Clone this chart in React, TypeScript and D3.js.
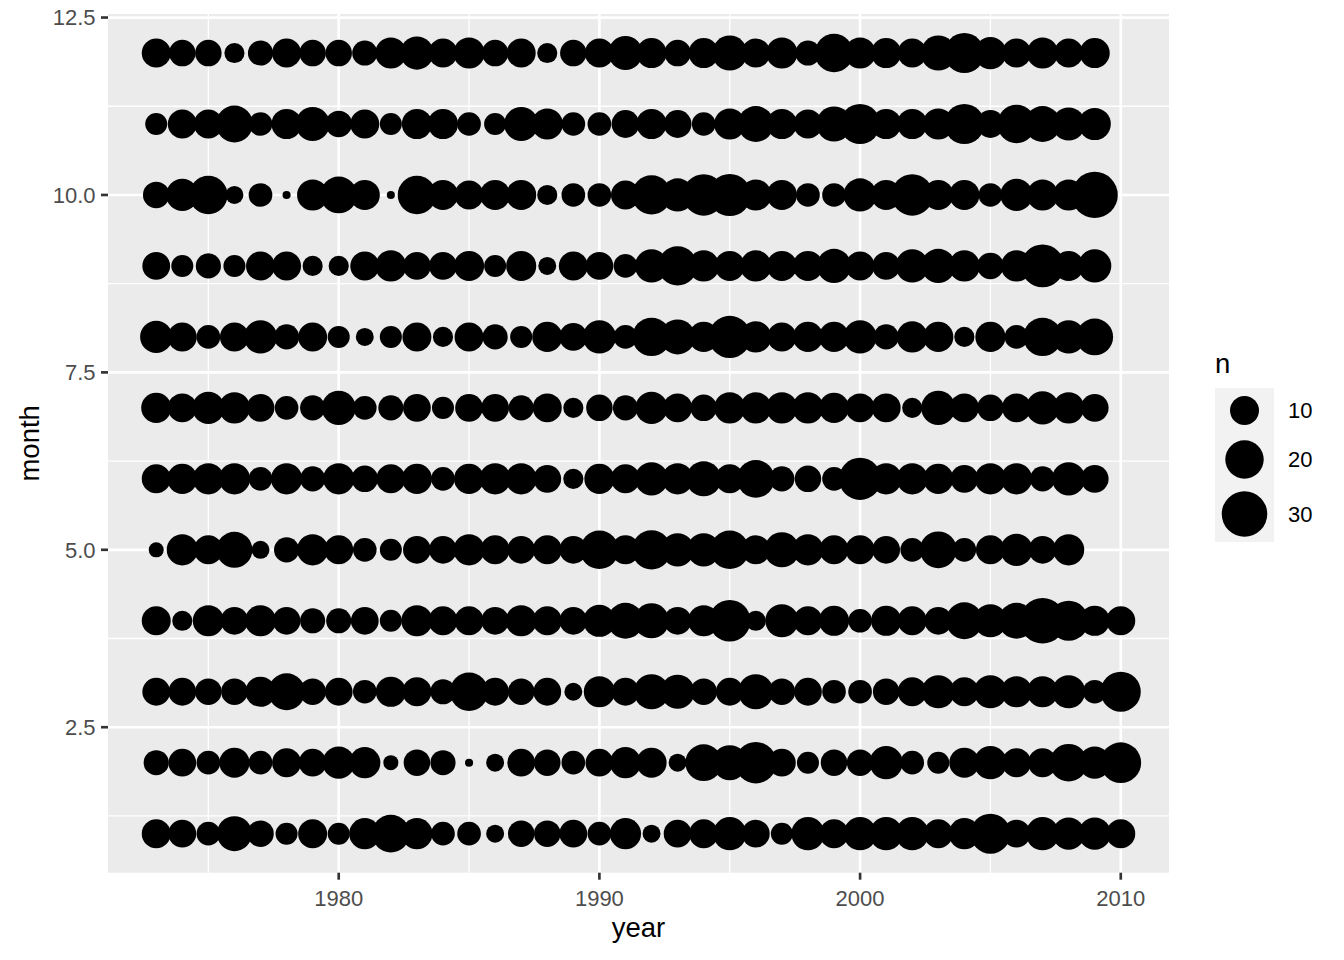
import React from 'react'
import * as d3 from 'd3'

// counts per month, one value per year starting at 1973
const months = [1, 2, 3, 4, 5, 6, 7, 8, 9, 10, 11, 12]
const firstYear = 1973
const jan = [10, 9, 6, 16, 8, 5, 10, 5, 12, 19, 12, 6, 6, 3, 8, 8, 9, 6, 12, 3, 9, 10, 14, 9, 5, 14, 10, 14, 14, 14, 10, 12, 22, 9, 14, 13, 13, 10]
const feb = [7, 9, 6, 11, 6, 10, 9, 13, 12, 2, 8, 7, 1, 3, 9, 8, 6, 9, 12, 11, 3, 18, 16, 24, 9, 5, 8, 8, 14, 6, 5, 11, 14, 10, 10, 19, 13, 23]
const mar = [9, 9, 8, 8, 11, 18, 8, 9, 6, 11, 10, 7, 20, 9, 8, 9, 3, 12, 9, 16, 15, 8, 9, 16, 8, 9, 6, 6, 8, 10, 14, 10, 14, 12, 12, 14, 6, 22]
const apr = [10, 4, 12, 9, 12, 9, 7, 7, 9, 5, 12, 10, 10, 9, 12, 10, 9, 13, 17, 16, 9, 12, 24, 4, 14, 10, 11, 6, 11, 10, 9, 18, 14, 17, 30, 22, 11, 10]
const may = [2, 12, 10, 17, 3, 7, 12, 10, 6, 5, 9, 9, 12, 10, 9, 10, 9, 20, 10, 21, 14, 14, 20, 10, 16, 12, 10, 10, 9, 6, 18, 6, 10, 13, 9, 12]
const jun = [10, 11, 12, 12, 6, 12, 7, 12, 8, 10, 11, 6, 11, 12, 12, 9, 4, 11, 10, 14, 12, 16, 10, 19, 7, 8, 6, 25, 12, 12, 11, 9, 12, 12, 7, 14, 9]
const jul = [11, 10, 13, 12, 9, 6, 7, 15, 6, 7, 9, 5, 9, 9, 7, 10, 4, 8, 7, 13, 10, 8, 12, 12, 12, 12, 11, 10, 10, 4, 15, 10, 8, 10, 14, 12, 9]
const aug = [13, 10, 6, 10, 14, 7, 10, 5, 3, 5, 10, 4, 10, 7, 5, 11, 9, 14, 6, 20, 16, 11, 25, 12, 10, 11, 11, 14, 7, 12, 11, 4, 11, 6, 20, 14, 18]
const sep = [9, 5, 7, 5, 10, 10, 4, 4, 10, 12, 9, 9, 11, 5, 11, 3, 10, 9, 6, 14, 21, 12, 11, 12, 11, 11, 15, 10, 9, 14, 15, 12, 8, 12, 26, 11, 14]
const oct = [8, 13, 20, 3, 6, 1, 12, 18, 11, 1, 20, 11, 10, 11, 11, 4, 6, 6, 10, 21, 14, 24, 25, 12, 11, 6, 6, 14, 11, 24, 11, 11, 6, 13, 12, 12, 31]
const nov = [5, 10, 10, 18, 6, 11, 15, 8, 10, 5, 11, 11, 6, 5, 15, 12, 6, 6, 9, 11, 9, 6, 12, 17, 11, 10, 16, 22, 11, 11, 12, 22, 9, 20, 17, 14, 13]
const dec = [10, 8, 8, 4, 7, 10, 8, 8, 7, 12, 14, 10, 12, 8, 10, 4, 8, 10, 15, 11, 8, 11, 16, 10, 12, 7, 20, 12, 11, 10, 16, 22, 13, 10, 12, 10, 11]

const xTicks = [1980, 1990, 2000, 2010]
const xMinor = [1975, 1985, 1995, 2005]
const yTicks = [2.5, 5, 7.5, 10, 12.5]
const yMinor = [1.25, 3.75, 6.25, 8.75, 11.25]
const legendBreaks = [10, 20, 30]

const series = [jan, feb, mar, apr, may, jun, jul, aug, sep, oct, nov, dec]

const points = []
series.forEach((vals, i) => {
  vals.forEach((n, j) => {
    points.push({ year: firstYear + j, month: months[i], n })
  })
})

const W = 1344
const H = 960
const panel = { left: 108, right: 1169, top: 14, bottom: 872.7 }
const font = 'Liberation Sans, Arial, Helvetica, sans-serif'

export default function App() {
  const yearExt = d3.extent(points, (d) => d.year)
  const xPad = (yearExt[1] - yearExt[0]) * 0.05
  const x = d3
    .scaleLinear()
    .domain([yearExt[0] - xPad, yearExt[1] + xPad])
    .range([panel.left, panel.right])

  const monthExt = d3.extent(points, (d) => d.month)
  const yPad = (monthExt[1] - monthExt[0]) * 0.05
  const y = d3
    .scaleLinear()
    .domain([monthExt[0] - yPad, monthExt[1] + yPad])
    .range([panel.bottom, panel.top])

  const nMin = d3.min(points, (d) => d.n)
  const nMax = d3.max(points, (d) => d.n)
  const rScale = d3.scaleSqrt().domain([0, nMax - nMin]).range([4.06, 23.1])
  const r = (n) => rScale(n - nMin)

  const fmt = d3.format('.1f')

  // legend layout
  const keyX = 1215
  const keyW = 59
  const keys = [
    { top: 388, h: 45 },
    { top: 433, h: 53 },
    { top: 486, h: 56 },
  ]

  return (
    <svg
      width={W}
      height={H}
      style={{ position: 'absolute', left: 0, top: 0, background: '#fff' }}
      fontFamily={font}
    >
      {/* panel */}
      <rect
        x={panel.left}
        y={panel.top}
        width={panel.right - panel.left}
        height={panel.bottom - panel.top}
        fill="#EBEBEB"
      />
      {xMinor.map((t) => (
        <line key={'xm' + t} x1={x(t)} x2={x(t)} y1={panel.top} y2={panel.bottom} stroke="#fff" strokeWidth={1.33} />
      ))}
      {yMinor.map((t) => (
        <line key={'ym' + t} x1={panel.left} x2={panel.right} y1={y(t)} y2={y(t)} stroke="#fff" strokeWidth={1.33} />
      ))}
      {xTicks.map((t) => (
        <line key={'xg' + t} x1={x(t)} x2={x(t)} y1={panel.top} y2={panel.bottom} stroke="#fff" strokeWidth={2.66} />
      ))}
      {yTicks.map((t) => (
        <line key={'yg' + t} x1={panel.left} x2={panel.right} y1={y(t)} y2={y(t)} stroke="#fff" strokeWidth={2.66} />
      ))}

      {/* points */}
      {points.map((d, i) => (
        <circle key={i} cx={x(d.year)} cy={y(d.month)} r={r(d.n)} fill="#000" />
      ))}

      {/* x axis */}
      {xTicks.map((t) => (
        <g key={'xt' + t}>
          <line x1={x(t)} x2={x(t)} y1={panel.bottom} y2={panel.bottom + 7} stroke="#333" strokeWidth={2.66} />
          <text x={x(t)} y={906} textAnchor="middle" fontSize={22} fill="#4D4D4D">
            {t}
          </text>
        </g>
      ))}
      {/* y axis */}
      {yTicks.map((t) => (
        <g key={'yt' + t}>
          <line x1={panel.left - 7} x2={panel.left} y1={y(t)} y2={y(t)} stroke="#333" strokeWidth={2.66} />
          <text x={95.5} y={y(t)} dy="0.36em" textAnchor="end" fontSize={22} fill="#4D4D4D">
            {fmt(t)}
          </text>
        </g>
      ))}

      <text x={(panel.left + panel.right) / 2} y={937} textAnchor="middle" fontSize={27.5} fill="#000">
        year
      </text>
      <text
        transform={`translate(39,${(panel.top + panel.bottom) / 2}) rotate(-90)`}
        textAnchor="middle"
        fontSize={27.5}
        fill="#000"
      >
        month
      </text>

      {/* legend */}
      <text x={keyX} y={373} fontSize={27.5} fill="#000">
        n
      </text>
      {legendBreaks.map((b, i) => {
        const k = keys[i]
        const cy = k.top + k.h / 2
        return (
          <g key={'lg' + b}>
            <rect x={keyX} y={k.top} width={keyW} height={k.h} fill="#F2F2F2" />
            <circle cx={keyX + keyW / 2} cy={cy} r={r(b)} fill="#000" />
            <text x={1288} y={cy} dy="0.36em" fontSize={22} fill="#000">
              {b}
            </text>
          </g>
        )
      })}
    </svg>
  )
}
